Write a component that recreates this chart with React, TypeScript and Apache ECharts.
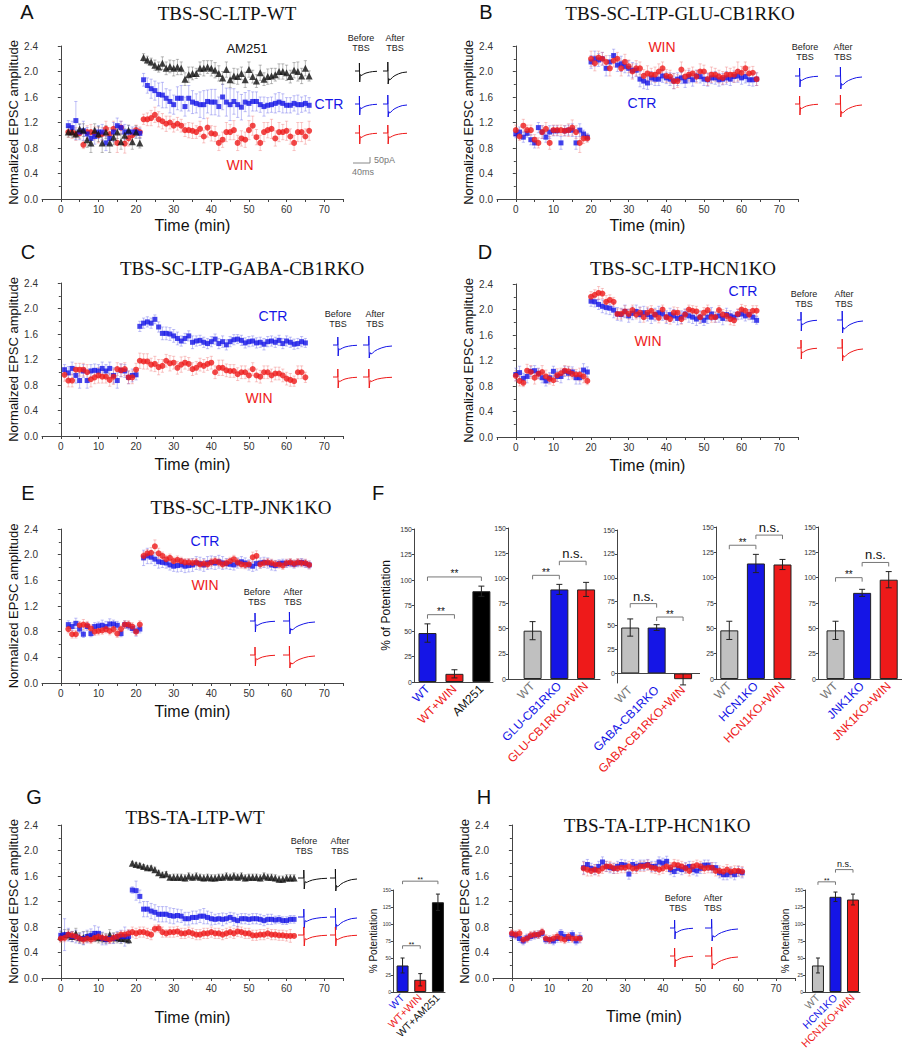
import React, { useEffect, useRef } from "react";
import * as echarts from "echarts";

// ================= DATA =================
// Panel A  TBS-SC-LTP-WT
const timeA = [2,3,4,5,6,7,8,9,10,11,12,13,14,15,16,17,18,19,20,21,22,23,24,25,26,27,28,29,30,31,32,33,34,35,36,37,38,39,40,41,42,43,44,45,46,47,48,49,50,51,52,53,54,55,56,57,58,59,60,61,62,63,64,65,66];
const ctrA = [1.15,1.12,1.23,1.05,1.07,1.02,0.95,0.98,1.05,1.05,0.88,0.95,1.05,1.15,1.12,1.05,1.05,1.05,1.05,1.03,
  1.87,1.78,1.73,1.70,1.64,1.63,1.58,1.53,1.48,1.58,1.58,1.45,1.58,1.52,1.50,1.48,1.48,1.53,1.52,1.52,1.45,1.60,1.52,1.48,1.53,1.48,1.44,1.52,1.50,1.53,1.53,1.48,1.45,1.47,1.48,1.50,1.52,1.50,1.47,1.47,1.50,1.48,1.48,1.50,1.47];
const ctrAErr = [0.08,0.10,0.30,0.12,0.15,0.10,0.12,0.12,0.10,0.12,0.12,0.10,0.15,0.12,0.10,0.12,0.10,0.08,0.08,0.08,
  0.10,0.12,0.15,0.15,0.18,0.20,0.15,0.18,0.15,0.18,0.20,0.15,0.20,0.18,0.15,0.20,0.22,0.18,0.20,0.20,0.15,0.20,0.22,0.25,0.20,0.20,0.20,0.15,0.20,0.15,0.15,0.12,0.15,0.12,0.12,0.15,0.15,0.15,0.12,0.12,0.12,0.15,0.12,0.12,0.12];
const winA = [1.05,1.05,1.02,1.03,0.85,1.05,1.05,1.03,1.00,1.02,1.10,1.02,1.10,0.88,1.12,0.87,0.95,1.00,1.08,1.05,
  1.25,1.25,1.27,1.32,1.25,1.22,1.18,1.20,1.15,1.18,1.15,1.08,1.08,1.07,1.05,1.10,0.98,1.12,1.03,1.02,0.88,0.93,1.05,1.05,1.08,0.88,0.95,0.93,1.08,1.15,0.97,0.88,1.05,1.08,1.10,0.95,1.05,1.05,1.07,0.98,0.88,1.05,1.05,0.98,1.07];
const winAErr = [0.08,0.10,0.10,0.08,0.06,0.10,0.12,0.10,0.12,0.10,0.12,0.10,0.12,0.15,0.10,0.15,0.12,0.10,0.08,0.08,
  0.08,0.10,0.12,0.12,0.12,0.12,0.12,0.10,0.10,0.10,0.10,0.10,0.12,0.12,0.10,0.12,0.10,0.15,0.12,0.12,0.12,0.12,0.15,0.12,0.15,0.12,0.12,0.12,0.15,0.15,0.12,0.12,0.15,0.12,0.15,0.12,0.15,0.12,0.15,0.12,0.12,0.15,0.15,0.12,0.15];
const amA = [1.05,1.05,1.02,1.10,1.08,0.93,0.88,1.08,1.02,0.88,1.05,0.88,0.97,1.05,0.90,1.00,1.08,0.90,1.05,0.88,
  2.22,2.18,2.15,2.10,2.07,2.13,2.05,2.08,2.05,2.07,2.05,1.88,1.95,1.97,1.97,2.05,2.05,2.07,2.05,2.02,1.97,1.90,2.03,1.87,1.93,1.92,1.97,1.87,2.03,1.92,1.85,1.98,1.88,1.92,1.93,1.95,2.00,2.00,1.98,1.92,2.02,2.00,1.93,2.05,1.93];
const amAErr = [0.08,0.08,0.06,0.08,0.10,0.12,0.15,0.10,0.12,0.15,0.10,0.15,0.12,0.10,0.12,0.10,0.08,0.12,0.10,0.08,
  0.06,0.06,0.06,0.08,0.08,0.10,0.10,0.10,0.12,0.12,0.10,0.10,0.12,0.10,0.08,0.10,0.12,0.10,0.12,0.12,0.12,0.10,0.12,0.12,0.12,0.12,0.10,0.12,0.12,0.10,0.10,0.12,0.10,0.12,0.12,0.10,0.12,0.12,0.12,0.10,0.12,0.15,0.12,0.12,0.08];

// Panel B  TBS-SC-LTP-GLU-CB1RKO
const timeB = [0,1,2,3,4,5,6,7,8,9,10,11,12,13,14,15,16,17,18,19,20,21,22,23,24,25,26,27,28,29,30,31,32,33,34,35,36,37,38,39,40,41,42,43,44,45,46,47,48,49,50,51,52,53,54,55,56,57,58,59,60,61,62,63,64];
const ctrB = [1.02,1.05,0.97,1.03,0.93,0.88,1.12,1.05,0.97,1.05,1.07,1.07,0.88,1.07,1.08,1.08,0.88,1.08,1.02,0.97,
  2.15,2.20,2.18,2.20,2.05,2.15,2.25,2.10,2.12,2.08,2.05,2.02,2.02,1.88,1.85,1.82,1.90,1.88,1.88,1.93,1.90,1.88,1.85,1.88,1.90,1.85,1.92,1.87,1.93,1.92,1.88,1.87,1.90,1.90,1.87,1.88,1.90,1.88,1.92,1.93,1.90,1.92,1.87,1.87,1.88];
const ctrBErr = [0.06,0.08,0.08,0.06,0.08,0.08,0.08,0.10,0.08,0.10,0.08,0.08,0.10,0.08,0.08,0.10,0.10,0.10,0.06,0.06,
  0.10,0.12,0.10,0.10,0.12,0.10,0.10,0.10,0.12,0.10,0.12,0.12,0.10,0.12,0.12,0.10,0.10,0.10,0.10,0.10,0.09,0.10,0.12,0.10,0.09,0.10,0.10,0.10,0.09,0.10,0.10,0.10,0.09,0.10,0.10,0.09,0.10,0.10,0.09,0.10,0.10,0.10,0.09,0.10,0.10];
const winB = [1.08,0.98,1.15,1.08,1.08,0.93,0.88,1.05,1.10,0.88,1.08,1.08,1.08,1.07,1.08,1.12,1.05,0.88,0.95,0.95,
  2.20,2.13,2.22,2.20,2.15,2.05,2.17,2.20,2.05,2.15,2.08,2.00,2.05,2.05,1.93,1.97,1.95,1.95,2.00,2.05,1.93,1.92,1.85,1.85,2.03,1.92,1.95,1.97,1.92,2.00,2.00,1.88,1.95,1.95,1.92,1.90,1.95,1.95,1.95,2.00,1.98,2.05,1.97,1.98,1.88];
const winBErr = [0.08,0.06,0.10,0.08,0.08,0.08,0.08,0.10,0.10,0.10,0.08,0.08,0.08,0.08,0.10,0.12,0.10,0.15,0.08,0.06,
  0.12,0.12,0.10,0.10,0.10,0.12,0.10,0.10,0.12,0.12,0.10,0.12,0.12,0.10,0.10,0.12,0.10,0.12,0.12,0.10,0.10,0.10,0.12,0.10,0.12,0.10,0.10,0.10,0.10,0.12,0.10,0.10,0.12,0.10,0.10,0.10,0.12,0.10,0.12,0.15,0.10,0.10,0.10,0.10,0.10];

// Panel C  TBS-SC-LTP-GABA-CB1RKO
const timeC = [1,2,3,4,5,6,7,8,9,10,11,12,13,14,15,16,17,18,19,20,21,22,23,24,25,26,27,28,29,30,31,32,33,34,35,36,37,38,39,40,41,42,43,44,45,46,47,48,49,50,51,52,53,54,55,56,57,58,59,60,61,62,63,64,65];
const ctrC = [1.04,0.99,1.06,0.95,0.87,1.02,0.87,1.02,1.03,1.02,1.06,1.02,1.06,0.95,0.87,1.03,1.02,0.92,0.95,0.96,
  1.72,1.77,1.79,1.77,1.83,1.71,1.61,1.61,1.60,1.57,1.53,1.49,1.53,1.57,1.47,1.49,1.50,1.47,1.45,1.48,1.52,1.45,1.48,1.43,1.48,1.51,1.52,1.50,1.46,1.48,1.49,1.46,1.47,1.44,1.48,1.49,1.47,1.50,1.45,1.49,1.47,1.44,1.45,1.48,1.46];
const ctrCErr = [0.08,0.10,0.10,0.12,0.12,0.10,0.12,0.10,0.10,0.10,0.10,0.10,0.10,0.12,0.12,0.10,0.10,0.10,0.10,0.08,
  0.08,0.08,0.08,0.08,0.07,0.08,0.10,0.10,0.10,0.10,0.10,0.08,0.08,0.08,0.10,0.08,0.08,0.08,0.08,0.08,0.08,0.08,0.09,0.08,0.08,0.08,0.07,0.08,0.08,0.08,0.08,0.08,0.08,0.09,0.08,0.08,0.08,0.08,0.08,0.08,0.08,0.08,0.08,0.08,0.07];
const winC = [0.96,0.87,0.87,1.04,1.04,1.04,1.00,0.89,0.92,0.95,0.93,0.93,0.88,0.93,1.05,1.03,1.05,0.92,0.92,1.04,
  1.18,1.17,1.17,1.12,1.13,1.08,1.10,1.18,1.14,1.15,1.07,1.12,1.15,1.13,1.05,1.07,1.12,1.10,1.13,1.15,1.00,1.07,1.07,1.03,1.02,1.02,0.97,1.00,1.00,0.95,1.05,0.95,0.93,1.00,1.00,0.95,0.98,0.98,0.95,0.90,0.88,0.86,1.00,1.00,0.92];
const winCErr = [0.10,0.10,0.10,0.10,0.10,0.10,0.12,0.12,0.10,0.12,0.10,0.10,0.10,0.12,0.10,0.10,0.10,0.10,0.10,0.10,
  0.12,0.12,0.12,0.10,0.12,0.12,0.10,0.10,0.12,0.10,0.10,0.12,0.10,0.10,0.10,0.10,0.10,0.10,0.10,0.10,0.10,0.12,0.12,0.10,0.10,0.10,0.10,0.10,0.10,0.10,0.10,0.10,0.10,0.10,0.10,0.10,0.10,0.10,0.10,0.10,0.10,0.08,0.10,0.10,0.08];

// Panel D  TBS-SC-LTP-HCN1KO
const timeD = [0,1,2,3,4,5,6,7,8,9,10,11,12,13,14,15,16,17,18,19,20,21,22,23,24,25,26,27,28,29,30,31,32,33,34,35,36,37,38,39,40,41,42,43,44,45,46,47,48,49,50,51,52,53,54,55,56,57,58,59,60,61,62,63,64];
const ctrD = [0.98,1.01,0.92,0.95,1.03,1.04,1.00,0.93,0.88,0.93,1.03,0.95,0.95,1.03,1.00,1.02,0.93,0.93,1.05,1.02,
  2.13,2.12,2.08,2.05,2.03,2.02,1.99,1.93,1.92,1.97,1.90,1.94,1.97,1.92,1.95,1.92,1.88,1.92,1.95,1.93,1.88,1.92,1.90,1.86,1.88,1.93,1.90,1.88,1.85,1.88,1.83,1.88,1.93,1.88,1.90,1.86,1.92,1.90,1.88,1.92,1.93,1.90,1.92,1.88,1.83];
const ctrDErr = [0.10,0.10,0.08,0.10,0.08,0.08,0.08,0.08,0.08,0.08,0.08,0.08,0.10,0.08,0.10,0.08,0.10,0.10,0.10,0.08,
  0.08,0.08,0.08,0.10,0.10,0.10,0.12,0.10,0.10,0.10,0.10,0.10,0.10,0.12,0.10,0.10,0.10,0.10,0.10,0.10,0.10,0.10,0.10,0.10,0.10,0.08,0.10,0.10,0.10,0.10,0.08,0.10,0.10,0.08,0.10,0.10,0.10,0.08,0.08,0.08,0.08,0.08,0.08,0.08,0.06];
const winD = [0.96,0.88,0.85,1.04,1.02,0.93,0.99,1.02,0.95,0.91,0.89,0.97,1.00,1.04,1.03,0.99,0.98,0.98,0.95,0.88,
  2.20,2.23,2.26,2.25,2.12,2.15,2.12,1.93,1.93,1.97,1.93,1.99,1.92,1.95,1.88,1.95,1.98,1.92,1.87,2.00,1.88,1.85,1.95,1.95,1.85,1.92,2.00,1.98,1.97,1.88,1.95,1.99,1.88,1.88,1.99,1.92,1.90,1.85,1.83,1.93,2.00,1.98,1.92,1.98,1.98];
const winDErr = [0.08,0.08,0.06,0.10,0.10,0.10,0.08,0.10,0.10,0.08,0.08,0.10,0.08,0.08,0.08,0.08,0.08,0.10,0.10,0.06,
  0.08,0.08,0.10,0.08,0.10,0.08,0.07,0.08,0.08,0.09,0.08,0.08,0.07,0.08,0.08,0.09,0.08,0.08,0.08,0.07,0.08,0.08,0.09,0.08,0.08,0.08,0.07,0.08,0.08,0.09,0.08,0.08,0.08,0.08,0.07,0.08,0.08,0.09,0.08,0.08,0.08,0.08,0.07,0.08,0.08];

// Panel E  TBS-SC-LTP-JNK1KO
const timeE = [2,3,4,5,6,7,8,9,10,11,12,13,14,15,16,17,18,19,20,21,22,23,24,25,26,27,28,29,30,31,32,33,34,35,36,37,38,39,40,41,42,43,44,45,46,47,48,49,50,51,52,53,54,55,56,57,58,59,60,61,62,63,64,65,66];
const ctrE = [0.91,0.88,0.93,0.84,0.76,0.88,0.77,0.88,0.89,0.90,0.88,0.92,0.92,0.90,0.77,0.91,0.89,0.85,0.81,0.84,
  1.95,1.98,1.96,1.93,1.89,1.88,1.87,1.84,1.82,1.83,1.84,1.82,1.83,1.84,1.87,1.86,1.84,1.87,1.88,1.87,1.89,1.87,1.86,1.85,1.84,1.87,1.89,1.87,1.84,1.82,1.86,1.87,1.88,1.87,1.84,1.83,1.86,1.87,1.86,1.87,1.85,1.87,1.88,1.86,1.84];
const ctrEErr = [0.06,0.06,0.08,0.06,0.05,0.06,0.05,0.06,0.06,0.08,0.08,0.08,0.06,0.06,0.05,0.06,0.06,0.06,0.08,0.06,
  0.12,0.12,0.10,0.10,0.10,0.08,0.08,0.08,0.08,0.10,0.10,0.10,0.10,0.10,0.10,0.10,0.10,0.10,0.10,0.10,0.10,0.10,0.08,0.08,0.08,0.08,0.08,0.08,0.08,0.08,0.10,0.08,0.08,0.08,0.08,0.08,0.06,0.06,0.06,0.06,0.06,0.06,0.06,0.06,0.06];
const winE = [0.84,0.76,0.76,0.90,0.91,0.90,0.85,0.80,0.81,0.82,0.84,0.81,0.84,0.77,0.84,0.91,0.91,0.88,0.80,0.91,
  1.98,2.02,2.03,2.13,2.02,1.98,1.93,1.95,1.90,1.92,1.90,1.88,1.88,1.87,1.88,1.85,1.86,1.85,1.88,1.90,1.88,1.85,1.87,1.90,1.93,1.88,1.85,1.84,1.85,1.96,1.98,1.85,1.87,1.88,1.87,1.85,1.85,1.83,1.87,1.88,1.86,1.88,1.87,1.87,1.84];
const winEErr = [0.06,0.06,0.06,0.06,0.08,0.06,0.06,0.06,0.06,0.06,0.06,0.06,0.06,0.06,0.06,0.06,0.06,0.06,0.06,0.06,
  0.06,0.06,0.08,0.10,0.08,0.06,0.06,0.06,0.06,0.06,0.06,0.06,0.06,0.06,0.06,0.06,0.06,0.06,0.06,0.06,0.06,0.06,0.06,0.06,0.06,0.06,0.06,0.06,0.06,0.08,0.08,0.06,0.06,0.06,0.06,0.06,0.06,0.06,0.06,0.06,0.06,0.06,0.06,0.06,0.06];

// Panel G  TBS-TA-LTP-WT
const timeG = [0,1,2,3,4,5,6,7,8,9,10,11,12,13,14,15,16,17,18,19,20,21,22,23,24,25,26,27,28,29,30,31,32,33,34,35,36,37,38,39,40,41,42,43,44,45,46,47,48,49,50,51,52,53,54,55,56,57,58,59,60,61,62];
const amG = [0.65,0.68,0.68,0.65,0.70,0.63,0.63,0.65,0.65,0.65,0.63,0.63,0.62,0.68,0.63,0.63,0.62,0.62,0.60,
  1.80,1.78,1.77,1.75,1.73,1.73,1.70,1.65,1.62,1.63,1.58,1.58,1.58,1.58,1.57,1.60,1.58,1.60,1.58,1.57,1.58,1.57,1.57,1.58,1.58,1.60,1.58,1.60,1.58,1.60,1.57,1.58,1.58,1.58,1.57,1.60,1.58,1.58,1.57,1.55,1.55,1.57,1.57,1.57];
const amGErr = [0.08,0.08,0.08,0.08,0.08,0.08,0.10,0.08,0.08,0.08,0.08,0.08,0.08,0.08,0.08,0.08,0.08,0.06,0.06,
  0.03,0.03,0.03,0.03,0.03,0.03,0.04,0.04,0.04,0.04,0.04,0.05,0.05,0.05,0.05,0.05,0.05,0.05,0.05,0.05,0.05,0.05,0.05,0.05,0.05,0.05,0.05,0.05,0.05,0.05,0.05,0.05,0.05,0.05,0.05,0.05,0.05,0.05,0.05,0.05,0.05,0.05,0.05,0.05];
const ctrG = [0.67,0.68,0.68,0.65,0.65,0.62,0.62,0.65,0.67,0.70,0.70,0.62,0.60,0.62,0.62,0.65,0.65,0.65,0.65,
  1.38,1.37,1.28,1.08,1.08,1.05,1.03,1.00,1.00,1.00,0.98,0.97,0.98,0.97,0.93,0.93,0.95,0.95,0.97,0.97,0.95,0.93,0.92,0.93,0.92,0.93,0.95,0.92,0.90,0.93,0.93,0.92,0.93,0.93,0.92,0.90,0.92,0.92,0.91,0.92,0.90,0.90,0.92,0.92];
const ctrGErr = [0.08,0.25,0.10,0.08,0.10,0.08,0.10,0.10,0.10,0.12,0.10,0.10,0.08,0.08,0.08,0.08,0.10,0.15,0.10,
  0.05,0.15,0.10,0.12,0.12,0.12,0.12,0.12,0.12,0.12,0.12,0.12,0.10,0.10,0.10,0.10,0.10,0.10,0.10,0.12,0.10,0.10,0.08,0.08,0.10,0.08,0.08,0.10,0.10,0.08,0.08,0.08,0.08,0.08,0.08,0.08,0.08,0.08,0.06,0.06,0.06,0.06,0.06,0.06];
const winG = [0.62,0.63,0.68,0.67,0.65,0.62,0.60,0.62,0.60,0.63,0.65,0.63,0.62,0.60,0.63,0.65,0.68,0.68,0.70,
  0.72,0.70,0.72,0.72,0.70,0.68,0.77,0.78,0.72,0.70,0.72,0.72,0.73,0.70,0.70,0.72,0.70,0.68,0.68,0.70,0.70,0.72,0.70,0.70,0.68,0.70,0.72,0.70,0.73,0.72,0.70,0.70,0.67,0.67,0.68,0.68,0.70,0.68,0.68,0.67,0.67,0.66,0.66,0.66];
const winGErr = [0.06,0.06,0.06,0.06,0.06,0.06,0.06,0.06,0.06,0.06,0.06,0.06,0.06,0.06,0.06,0.06,0.06,0.06,0.06,
  0.08,0.08,0.08,0.08,0.08,0.08,0.06,0.06,0.08,0.06,0.08,0.08,0.08,0.08,0.08,0.08,0.08,0.08,0.08,0.08,0.08,0.08,0.08,0.08,0.08,0.08,0.08,0.08,0.08,0.08,0.08,0.08,0.08,0.08,0.08,0.08,0.08,0.08,0.08,0.08,0.08,0.08,0.10];

// Panel H  TBS-TA-LTP-HCN1KO
const timeH = [0,1,2,3,4,5,6,7,8,9,10,11,12,13,14,15,16,17,18,19,20,21,22,23,24,25,26,27,28,29,30,31,32,33,34,35,36,37,38,39,40,41,42,43,44,45,46,47,48,49,50,51,52,53,54,55,56,57,58,59,60,61];
const ctrH = [0.68,0.67,0.62,0.58,0.63,0.65,0.67,0.68,0.70,0.60,0.60,0.58,0.62,0.70,0.65,0.62,0.68,0.58,0.63,
  1.73,1.78,1.72,1.70,1.75,1.82,1.75,1.73,1.72,1.75,1.78,1.77,1.63,1.78,1.75,1.77,1.77,1.78,1.75,1.75,1.82,1.80,1.83,1.70,1.67,1.72,1.70,1.73,1.75,1.70,1.68,1.72,1.77,1.77,1.73,1.73,1.65,1.62,1.62,1.65,1.62,1.67,1.65];
const ctrHErr = [0.06,0.06,0.06,0.06,0.06,0.06,0.06,0.06,0.06,0.06,0.06,0.06,0.06,0.06,0.06,0.06,0.06,0.06,0.08,
  0.10,0.08,0.08,0.08,0.08,0.08,0.08,0.08,0.08,0.08,0.08,0.08,0.08,0.08,0.08,0.08,0.08,0.08,0.08,0.08,0.08,0.08,0.08,0.08,0.08,0.08,0.08,0.08,0.08,0.08,0.08,0.08,0.08,0.08,0.08,0.08,0.08,0.08,0.08,0.08,0.08,0.08,0.08];
const winH = [0.70,0.68,0.70,0.60,0.62,0.67,0.68,0.68,0.72,0.62,0.60,0.62,0.65,0.62,0.60,0.65,0.62,0.62,0.62,
  1.72,1.70,1.68,1.70,1.68,1.72,1.75,1.75,1.72,1.72,1.73,1.73,1.75,1.72,1.72,1.75,1.75,1.77,1.73,1.72,1.70,1.72,1.75,1.73,1.78,1.77,1.75,1.72,1.68,1.75,1.77,1.75,1.72,1.73,1.73,1.68,1.68,1.67,1.70,1.67,1.68,1.68,1.67];
const winHErr = [0.06,0.06,0.06,0.06,0.06,0.06,0.06,0.06,0.06,0.06,0.06,0.06,0.06,0.06,0.06,0.06,0.06,0.06,0.06,
  0.10,0.10,0.08,0.08,0.08,0.08,0.08,0.08,0.08,0.08,0.08,0.08,0.08,0.08,0.08,0.08,0.08,0.08,0.08,0.08,0.08,0.08,0.08,0.08,0.08,0.08,0.08,0.08,0.08,0.08,0.08,0.08,0.08,0.08,0.08,0.08,0.08,0.08,0.08,0.08,0.08,0.08,0.08];

// Bar panels (% of potentiation)
const catsF1 = ["WT", "WT+WIN", "AM251"];
const valsF1 = [48, 8, 89];
const errF1 = [9, 4, 5];
const bracketsF1 = [[1, 2, 66, "**"], [1, 3, 103, "**"]];
const catsF2 = ["WT", "GLU-CB1RKO", "GLU-CB1RKO+WIN"];
const valsF2 = [48, 89, 89];
const errF2 = [9, 5, 7];
const bracketsF2 = [[1, 2, 103, "**"], [2, 3, 117, "n.s."]];
const catsF3 = ["WT", "GABA-CB1RKO", "GABA-CB1RKO+WIN"];
const valsF3 = [48, 48, -6];
const errF3 = [9, 3, 6];
const bracketsF3 = [[1, 2, 73, "n.s."], [2, 3, 59, "**"]];
const catsF4 = ["WT", "HCN1KO", "HCN1KO+WIN"];
const valsF4 = [48, 114, 113];
const errF4 = [9, 9, 5];
const bracketsF4 = [[1, 2, 132, "**"], [2, 3, 142, "n.s."]];
const catsF5 = ["WT", "JNK1KO", "JNK1KO+WIN"];
const valsF5 = [48, 85, 98];
const errF5 = [9, 3.5, 8];
const bracketsF5 = [[1, 2, 100, "**"], [2, 3, 115, "n.s."]];
const catsG = ["WT", "WT+WIN", "WT+AM251"];
const valsG = [39, 18, 132];
const errG = [11, 9, 12];
const bracketsG = [[1, 2, 68, "**"], [1, 3, 163, "**"]];
const catsH = ["WT", "HCN1KO", "HCN1KO+WIN"];
const valsH = [39, 140, 136];
const errH = [11, 7, 8];
const bracketsH = [[1, 2, 162, "**"], [2, 3, 180, "n.s."]];

// Sample EPSC traces (normalized shape, time in ms-like units)
const traceBeforeT = [0, 4, 4, 4.3, 4.8, 5.5, 6.5, 8, 10, 13, 16, 20];
const traceBeforeV = [0, 0, 0.8, -1.1, -0.35, -0.45, -0.4, -0.3, -0.2, -0.12, -0.06, -0.03];
const traceAfterT = [0, 4, 4, 4.3, 4.8, 5.5, 6.5, 8, 10, 13, 16, 20];
const traceAfterV = [0, 0, 0.9, -1.3, -0.75, -0.9, -0.82, -0.62, -0.45, -0.28, -0.16, -0.1];

// ================= STYLE =================
const BLUE = "#1515e6";
const RED = "#ee1a1a";
const BLACK = "#111111";
const GRAY = "#c0c0c0";
const BLUE_E = "rgba(100,100,235,0.5)";
const RED_E = "rgba(238,100,100,0.45)";
const BLACK_E = "rgba(70,70,70,0.45)";
const SANS = "Liberation Sans, Arial, sans-serif";
const SERIF = "Liberation Serif, Times New Roman, serif";
const AX = "#444";

function buildOption() {
  const grid: any[] = [];
  const xAxis: any[] = [];
  const yAxis: any[] = [];
  const series: any[] = [];
  const graphic: any[] = [];

  const addGrid = (g: any, x: any, y: any) => {
    const i = grid.length;
    grid.push({ ...g, containLabel: false, outerBoundsMode: "none" });
    xAxis.push({ ...x, gridIndex: i });
    yAxis.push({ ...y, gridIndex: i });
    return i;
  };

  const errRender = (color: string, cap: number, width: number) => (params: any, api: any) => {
    const x = api.value(0);
    const lo = api.coord([x, api.value(1)]);
    const hi = api.coord([x, api.value(2)]);
    const st = { stroke: color, lineWidth: width };
    return {
      type: "group",
      children: [
        { type: "line", shape: { x1: lo[0], y1: lo[1], x2: hi[0], y2: hi[1] }, style: st },
        { type: "line", shape: { x1: lo[0] - cap, y1: lo[1], x2: lo[0] + cap, y2: lo[1] }, style: st },
        { type: "line", shape: { x1: hi[0] - cap, y1: hi[1], x2: hi[0] + cap, y2: hi[1] }, style: st },
      ],
    };
  };

  // ---------- time course panels ----------
  const timePanel = (p: any, list: any[]) => {
    const idx = addGrid(
      { left: p.left, top: p.top, width: p.w, height: p.h },
      {
        type: "value", min: -5, max: 75, interval: 5,
        axisLine: { onZero: false, lineStyle: { color: AX, width: 1 } },
        axisTick: { length: 3, lineStyle: { color: AX } },
        axisLabel: {
          fontSize: 10, color: "#333", margin: 5, fontFamily: SANS,
          formatter: (v: number) => (v >= 0 && v <= 70 && v % 10 === 0 ? String(v) : ""),
        },
        splitLine: { show: false },
        name: "Time (min)", nameLocation: "middle", nameGap: p.nameGap,
        nameTextStyle: { fontSize: 16, color: "#111", fontFamily: SANS },
      },
      {
        type: "value", min: 0, max: 2.4, interval: 0.4,
        axisLine: { show: true, lineStyle: { color: AX, width: 1 } },
        axisTick: { show: true, length: 3, lineStyle: { color: AX } },
        minorTick: { show: true, splitNumber: 2, length: 2, lineStyle: { color: AX } },
        axisLabel: { fontSize: 10, color: "#333", margin: 4, fontFamily: SANS, formatter: (v: number) => v.toFixed(1) },
        splitLine: { show: false },
        name: "Normalized EPSC amplitude", nameLocation: "middle", nameGap: 21,
        nameTextStyle: { fontSize: 13, color: "#111", fontFamily: SANS },
      }
    );
    list.forEach((s) => {
      series.push({
        type: "custom", xAxisIndex: idx, yAxisIndex: idx, silent: true, z: 1,
        renderItem: errRender(s.ec, 1.6, 0.8),
        encode: { x: 0, y: [1, 2] },
        data: s.t.map((t: number, i: number) => [t, s.v[i] - (s.e[i] ?? 0), s.v[i] + (s.e[i] ?? 0)]),
      });
    });
    list.forEach((s) => {
      series.push({
        type: "scatter", xAxisIndex: idx, yAxisIndex: idx, silent: true, z: 2,
        symbol: s.sym, symbolSize: s.size, itemStyle: { color: s.c },
        data: s.t.map((t: number, i: number) => [t, s.v[i]]),
      });
    });
  };

  const sq = (t: number[], v: number[], e: number[]) => ({ t, v, e, c: BLUE, ec: BLUE_E, sym: "rect", size: 5 });
  const ci = (t: number[], v: number[], e: number[]) => ({ t, v, e, c: RED, ec: RED_E, sym: "circle", size: 6 });
  const tr = (t: number[], v: number[], e: number[]) => ({ t, v, e, c: BLACK, ec: BLACK_E, sym: "triangle", size: 7 });

  timePanel({ left: 42, top: 46, w: 301, h: 153, nameGap: 18 }, [ci(timeA, winA, winAErr), sq(timeA, ctrA, ctrAErr), tr(timeA, amA, amAErr)]);
  timePanel({ left: 497, top: 46, w: 301, h: 153, nameGap: 18 }, [sq(timeB, ctrB, ctrBErr), ci(timeB, winB, winBErr)]);
  timePanel({ left: 42, top: 283, w: 301, h: 153, nameGap: 20 }, [sq(timeC, ctrC, ctrCErr), ci(timeC, winC, winCErr)]);
  timePanel({ left: 497, top: 284, w: 301, h: 153, nameGap: 20 }, [sq(timeD, ctrD, ctrDErr), ci(timeD, winD, winDErr)]);
  timePanel({ left: 42, top: 529, w: 301, h: 154, nameGap: 20 }, [sq(timeE, ctrE, ctrEErr), ci(timeE, winE, winEErr)]);
  timePanel({ left: 42, top: 825, w: 301, h: 153, nameGap: 31 }, [tr(timeG, amG, amGErr), sq(timeG, ctrG, ctrGErr), ci(timeG, winG, winGErr)]);
  timePanel({ left: 493, top: 825, w: 302, h: 153, nameGap: 30 }, [sq(timeH, ctrH, ctrHErr), ci(timeH, winH, winHErr)]);

  // ---------- bar panels ----------
  const barPanel = (p: any, cats: string[], vals: number[], errs: number[], colors: string[], labelColors: string[], brackets: any[]) => {
    const ticks = [0, 25, 50, 75, 100, 125, 150];
    const rich: any = {};
    labelColors.forEach((c, i) => {
      rich["c" + (i + 1)] = { color: c, fontSize: p.labelFont, fontFamily: SANS };
    });
    const idx = addGrid(
      { left: p.left, top: p.top, width: p.w, height: p.h },
      {
        type: "value", min: p.xmin, max: p.xmax,
        axisLine: { show: p.ymin === 0, onZero: false, lineStyle: { color: AX, width: 1 } },
        axisTick: { show: false },
        axisLabel: {
          customValues: [1, 2, 3], rotate: 45, margin: p.labelMargin, rich,
          fontSize: p.labelFont, fontFamily: SANS,
          formatter: (v: number) => "{c" + Math.round(v) + "|" + cats[Math.round(v) - 1] + "}",
        },
        splitLine: { show: false },
      },
      {
        type: "value", min: p.ymin, max: 150,
        axisLine: { show: true, onZero: false, lineStyle: { color: AX, width: 1 } },
        axisTick: { show: true, length: 2, customValues: ticks, lineStyle: { color: AX } },
        axisLabel: { customValues: ticks, fontSize: p.tickFont, color: "#333", margin: 2, fontFamily: SANS },
        splitLine: { show: false },
        name: p.yName || "", nameLocation: "middle", nameGap: p.nameGap || 20,
        nameTextStyle: { fontSize: p.nameFont || 12, color: "#111", fontFamily: SANS },
      }
    );
    const bar: any = {
      type: "bar", xAxisIndex: idx, yAxisIndex: idx, barWidth: p.barWidth, silent: true, z: 2,
      data: vals.map((v, i) => ({ value: [i + 1, v], itemStyle: { color: colors[i], borderColor: "#222", borderWidth: 1 } })),
    };
    if (p.ymin !== 0) {
      bar.markLine = {
        symbol: "none", silent: true, label: { show: false },
        lineStyle: { color: AX, type: "solid", width: 1 },
        data: [{ yAxis: 0 }],
      };
    }
    series.push(bar);
    series.push({
      type: "custom", xAxisIndex: idx, yAxisIndex: idx, silent: true, z: 3,
      renderItem: errRender("#222", p.cap, 1),
      encode: { x: 0, y: [1, 2] },
      data: vals.map((v, i) => [i + 1, v - errs[i], v + errs[i]]),
    });
    const texts = brackets.map((b) => b[3]);
    series.push({
      type: "custom", xAxisIndex: idx, yAxisIndex: idx, silent: true, z: 3, clip: false,
      encode: { x: [0, 1], y: 2 },
      data: brackets.map((b) => [b[0], b[1], b[2]]),
      renderItem: (params: any, api: any) => {
        const a = api.coord([api.value(0), api.value(2)]);
        const b = api.coord([api.value(1), api.value(2)]);
        const txt = texts[params.dataIndex];
        const ns = txt !== "**";
        return {
          type: "group",
          children: [
            {
              type: "polyline",
              shape: { points: [[a[0], a[1] + p.drop], [a[0], a[1]], [b[0], b[1]], [b[0], b[1] + p.drop]] },
              style: { stroke: "#777", fill: "none", lineWidth: 1 },
            },
            {
              type: "text",
              style: {
                text: txt, x: (a[0] + b[0]) / 2, y: a[1] + (ns ? -1 : 2),
                align: "center", verticalAlign: "bottom",
                fontSize: ns ? p.nsFont : p.starFont, fontFamily: SANS, fill: "#111",
              },
            },
          ],
        };
      },
    });
  };

  const lc3 = [GRAY, BLUE, RED];
  const lcText = ["#777", BLUE, RED];
  const fBase = { labelFont: 12, labelMargin: 5, tickFont: 7, barWidth: 18, cap: 3, drop: 4, nsFont: 13, starFont: 10, ymin: 0 };
  barPanel({ ...fBase, left: 414, top: 529, w: 79, h: 153, xmin: 0.5, xmax: 3.43, yName: "% of Potentiation", nameGap: 22, nameFont: 12 },
    catsF1, valsF1, errF1, [BLUE, RED, "#000"], [BLUE, RED, BLACK], bracketsF1);
  barPanel({ ...fBase, left: 508, top: 528, w: 92, h: 151, xmin: 0.08, xmax: 3.52 }, catsF2, valsF2, errF2, lc3, lcText, bracketsF2);
  barPanel({ ...fBase, left: 617, top: 530, w: 83, h: 153, xmin: 0.5, xmax: 3.64, ymin: -10 }, catsF3, valsF3, errF3, lc3, lcText, bracketsF3);
  barPanel({ ...fBase, left: 716, top: 527, w: 79, h: 152, xmin: 0.5, xmax: 3.47 }, catsF4, valsF4, errF4, lc3, lcText, bracketsF4);
  barPanel({ ...fBase, left: 818, top: 527, w: 84, h: 152, xmin: 0.34, xmax: 3.5 }, catsF5, valsF5, errF5, lc3, lcText, bracketsF5);
  const iBase = { labelFont: 10.5, labelMargin: 4, tickFont: 5, barWidth: 12, cap: 2, drop: 3, nsFont: 9, starFont: 7, ymin: 0, nameFont: 10 };
  barPanel({ ...iBase, left: 393, top: 890, w: 52, h: 102, xmin: 0.46, xmax: 3.4, yName: "% Potentiation", nameGap: 13 },
    catsG, valsG, errG, [BLUE, RED, "#000"], [BLUE, RED, BLACK], bracketsG);
  barPanel({ ...iBase, left: 805, top: 890, w: 55, h: 102, xmin: 0.26, xmax: 3.4, yName: "% Potentiation", nameGap: 10 },
    catsH, valsH, errH, lc3, lcText, bracketsH);

  // ---------- sample traces ----------
  const shapeB = traceBeforeT.map((t, i) => [t, traceBeforeV[i]]);
  const shapeA = traceAfterT.map((t, i) => [t, traceAfterV[i]]);
  const trace = (left: number, base: number, w: number, kind: string, color: string) => {
    const idx = addGrid(
      { left, top: base - 10, width: w, height: 24 },
      { type: "value", min: 0, max: 20, show: false },
      { type: "value", min: -1.4, max: 1.0, show: false }
    );
    series.push({
      type: "line", xAxisIndex: idx, yAxisIndex: idx, silent: true, z: 4,
      showSymbol: false, symbol: "none", lineStyle: { color, width: 1 },
      data: kind === "a" ? shapeA : shapeB,
    });
  };
  const traceCols = [
    { bx: 355, bw: 22, ax: 383, aw: 24, rows: [[71, BLACK, "a"], [104, BLUE, "a"], [133, RED, "b"]] },
    { bx: 795, bw: 23, ax: 835, aw: 27, rows: [[76, BLUE, "a"], [104, RED, "a"]] },
    { bx: 333, bw: 24, ax: 363, aw: 29, rows: [[345, BLUE, "a"], [377, RED, "b"]] },
    { bx: 797, bw: 20, ax: 837, aw: 26, rows: [[320, BLUE, "a"], [348, RED, "a"]] },
    { bx: 250, bw: 25, ax: 283, aw: 32, rows: [[621, BLUE, "a"], [655, RED, "a"]] },
    { bx: 298, bw: 29, ax: 330, aw: 27, rows: [[878, BLACK, "a"], [917, BLUE, "a"], [935, RED, "b"]] },
    { bx: 670, bw: 23, ax: 705, aw: 33, rows: [[928, BLUE, "a"], [956, RED, "a"]] },
  ];
  traceCols.forEach((tc) => {
    tc.rows.forEach((r: any) => {
      trace(tc.bx, r[0], tc.bw, "b", r[1]);
      trace(tc.ax, r[0], tc.aw, r[2], r[1]);
    });
  });

  // ---------- texts ----------
  const txt = (text: string, x: number, y: number, size: number, fill: string, font: string, align = "center") => {
    graphic.push({
      type: "text", x, y, silent: true,
      style: { text, fill, fontSize: size, fontFamily: font, align, verticalAlign: "middle", textAlign: align, textVerticalAlign: "middle", lineHeight: size + 1 },
    });
  };
  // panel letters
  txt("A", 27, 12, 20, "#111", SANS);
  txt("B", 486, 12, 20, "#111", SANS);
  txt("C", 28, 252, 20, "#111", SANS);
  txt("D", 485, 252, 20, "#111", SANS);
  txt("E", 28, 493, 20, "#111", SANS);
  txt("F", 378, 493, 20, "#111", SANS);
  txt("G", 34, 797, 20, "#111", SANS);
  txt("H", 484, 797, 20, "#111", SANS);
  // titles
  txt("TBS-SC-LTP-WT", 227, 13, 19, "#111", SERIF);
  txt("TBS-SC-LTP-GLU-CB1RKO", 680, 13, 19, "#111", SERIF);
  txt("TBS-SC-LTP-GABA-CB1RKO", 242, 268, 19, "#111", SERIF);
  txt("TBS-SC-LTP-HCN1KO", 683, 268, 19, "#111", SERIF);
  txt("TBS-SC-LTP-JNK1KO", 241, 507, 19, "#111", SERIF);
  txt("TBS-TA-LTP-WT", 195, 817, 19, "#111", SERIF);
  txt("TBS-TA-LTP-HCN1KO", 657, 825, 19, "#111", SERIF);
  // series annotations
  txt("AM251", 247, 48, 13, "#111", SANS);
  txt("CTR", 329, 104, 14, BLUE, SANS);
  txt("WIN", 240, 165, 14, RED, SANS);
  txt("WIN", 662, 47, 14, RED, SANS);
  txt("CTR", 642, 103, 14, BLUE, SANS);
  txt("CTR", 273, 316, 14, BLUE, SANS);
  txt("WIN", 259, 398, 14, RED, SANS);
  txt("CTR", 743, 291, 14, BLUE, SANS);
  txt("WIN", 648, 341, 14, RED, SANS);
  txt("CTR", 205, 541, 14, BLUE, SANS);
  txt("WIN", 205, 585, 14, RED, SANS);
  // before/after labels
  const ba: number[][] = [[361, 395, 43], [805, 843, 52], [338, 375, 319], [804, 844, 299], [257, 293, 597], [304, 340, 846], [678, 713, 903]];
  ba.forEach((b) => {
    txt("Before\nTBS", b[0], b[2], 9, "#222", SANS);
    txt("After\nTBS", b[1], b[2], 9, "#222", SANS);
  });
  // scale bar (panel A)
  graphic.push({ type: "polyline", silent: true, shape: { points: [[353, 163], [370, 163], [370, 157]] }, style: { stroke: "#888", fill: "none", lineWidth: 1 } });
  txt("50pA", 374, 160, 9, "#777", SANS, "left");
  txt("40ms", 352, 172, 9, "#777", SANS, "left");

  return { animation: false, backgroundColor: "#ffffff", grid, xAxis, yAxis, series, graphic };
}

export default function App() {
  const ref = useRef<HTMLDivElement>(null);
  useEffect(() => {
    if (!ref.current) return;
    const chart = echarts.init(ref.current, null, { renderer: "svg" });
    chart.setOption(buildOption() as any);
    return () => chart.dispose();
  }, []);
  return (
    <div
      ref={ref}
      style={{ position: "absolute", left: 0, top: 0, width: 902, height: 1050, background: "#fff" }}
    />
  );
}
